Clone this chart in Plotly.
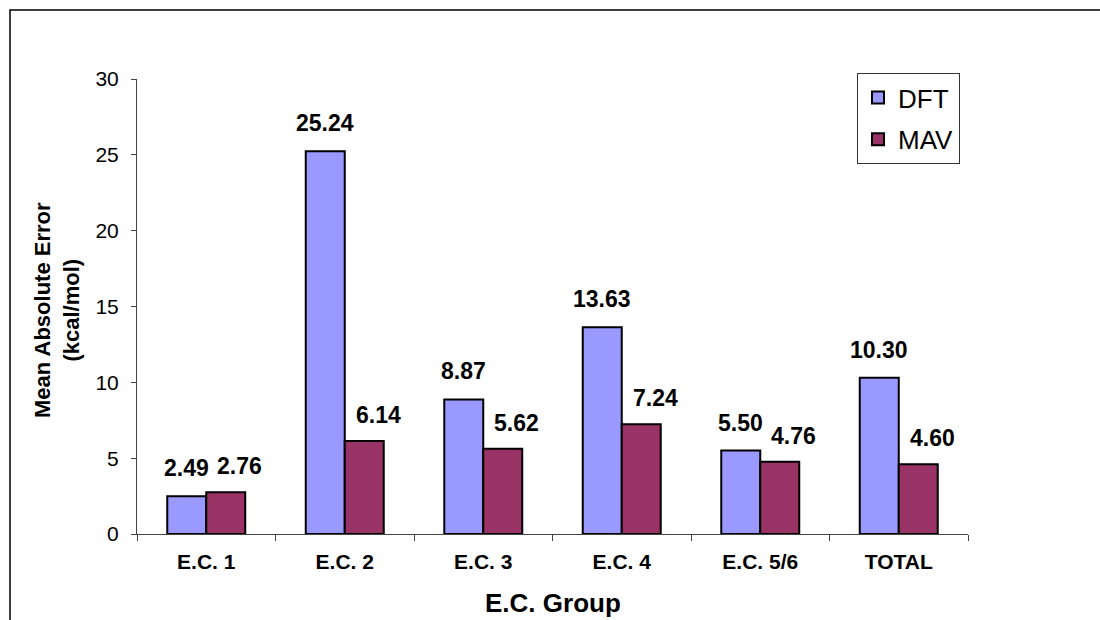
import plotly.graph_objects as go

# Mean absolute error per E.C. group (kcal/mol)
groups = ["E.C. 1", "E.C. 2", "E.C. 3", "E.C. 4", "E.C. 5/6", "TOTAL"]
dft = [2.49, 25.24, 8.87, 13.63, 5.50, 10.30]
mav = [2.76, 6.14, 5.62, 7.24, 4.76, 4.60]
y_ticks = [0, 5, 10, 15, 20, 25, 30]

W, H = 1100, 620
L, R, T, B = 137, 132, 79, 86
PW, PH = W - L - R, H - T - B


def px_x(px):
    return (px - L) / PW


def px_y(py):
    return (H - B - py) / PH


FONT = "Liberation Sans, Arial, Helvetica, sans-serif"

fig = go.Figure()
fig.add_trace(go.Bar(
    name="DFT", x=groups, y=dft, legendgroup="a",
    marker=dict(color="#9999FF", line=dict(color="black", width=2)),
))
fig.add_trace(go.Bar(
    name="MAV", x=groups, y=mav, legendgroup="b",
    marker=dict(color="#993366", line=dict(color="black", width=2)),
))

# value labels above each bar
half_bar = PW / len(groups) * 0.563 / 4
annotations = []
for vals, xs, ys in ((dft, -half_bar, 28), (mav, half_bar + 14, 26)):
    for g, v in zip(groups, vals):
        annotations.append(dict(
            x=g, y=v, xref="x", yref="y", text=f"{v:.2f}", showarrow=False,
            xshift=xs, yshift=ys, yanchor="middle", xanchor="center",
            font=dict(family=FONT, size=23, color="black", weight="bold"),
        ))

# two-line y axis title
annotations.append(dict(
    x=px_x(57), y=px_y(310), xref="paper", yref="paper",
    text="<b>Mean Absolute Error<br>(kcal/mol)</b>", showarrow=False,
    textangle=-90, xanchor="center", yanchor="middle",
    font=dict(family=FONT, size=22, color="black"),
))
annotations.append(dict(
    x=px_x(553), y=px_y(603), xref="paper", yref="paper",
    text="<b>E.C. Group</b>", showarrow=False,
    xanchor="center", yanchor="middle",
    font=dict(family=FONT, size=26, color="black"),
))

fig.update_layout(
    width=W, height=H,
    margin=dict(l=L, r=R, t=T, b=B, pad=0),
    paper_bgcolor="white", plot_bgcolor="white",
    barmode="group", bargap=0.437, bargroupgap=0,
    font=dict(family=FONT, color="black"),
    showlegend=True,
    legend=dict(
        x=px_x(857), y=px_y(73), xanchor="left", yanchor="top",
        bordercolor="#333333", borderwidth=1, bgcolor="white",
        font=dict(family=FONT, size=26, color="black"),
        tracegroupgap=5, traceorder="grouped",
    ),
    annotations=annotations,
    shapes=[dict(
        type="rect", xref="paper", yref="paper",
        x0=px_x(10), x1=px_x(1120), y0=px_y(640), y1=px_y(10),
        line=dict(color="black", width=1.5), layer="below",
    )],
    xaxis=dict(
        showline=True, linecolor="#444444", linewidth=1,
        ticks="outside", tickson="boundaries", ticklen=6, tickcolor="#444444",
        tickfont=dict(family=FONT, size=21, color="black", weight="bold"),
        ticklabelstandoff=9, showgrid=False, zeroline=False,
    ),
    yaxis=dict(
        range=[0, 30], tickvals=y_ticks, ticktext=[str(t) for t in y_ticks],
        showline=True, linecolor="#444444", linewidth=1,
        ticks="outside", ticklen=5, tickcolor="#444444",
        tickfont=dict(family=FONT, size=21, color="black"),
        ticklabelstandoff=8, showgrid=False, zeroline=False,
    ),
)

fig.write_html("out.html")
